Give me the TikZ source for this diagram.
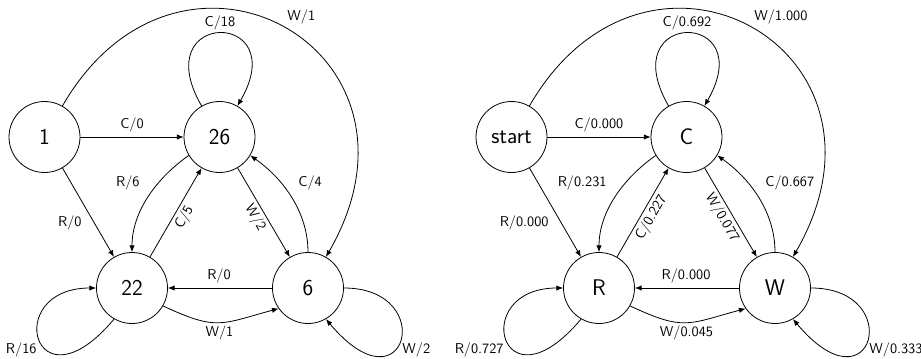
\documentclass[tikz,border=0pt]{standalone}
\usetikzlibrary{arrows.meta}
\begin{document}
\begin{tikzpicture}[x=0.75pt,y=0.75pt,
  state/.style={circle,draw,line width=0.6pt,minimum size=53.25pt,inner sep=0pt,
    font=\sffamily\fontsize{17}{20}\selectfont},
  conn/.style={line width=0.6pt,-{Latex[length=5pt,width=4pt]}},
  lbl/.style={font=\sffamily\fontsize{10.7}{12}\selectfont,inner sep=0pt},
  slbl/.style={lbl,midway,sloped,below=2pt}]
\path[use as bounding box] (0,0) rectangle (921,358);

% ---------- left graph ----------
\node[state] (a1)  at (44.5,221) {1};
\node[state] (a26) at (219.5,221) {26};
\node[state] (a22) at (132,70) {22};
\node[state] (a6)  at (308,70) {6};

\draw[conn] (a1) -- (a26) node[lbl] at (132,233) {C/0};
\draw[conn] (a1) -- (a22) node[lbl,anchor=east] at (82,135) {R/0};
\draw[conn] (a1.60) .. controls +(60:235) and +(60:240) .. (a6.60)
  node[lbl,anchor=west] at (287,341) {W/1};
\draw[conn] (a26.120) .. controls +(120:112) and +(60:112) .. (a26.60)
  node[lbl] at (220,335.5) {C/18};
\draw[conn] (a26.211) .. controls +(215:40) and +(90:40) .. (a22.90)
  node[lbl,anchor=east] at (140,175) {R/6};
\draw[conn] (a6.90) .. controls +(90:40) and +(325:40) .. (a26.329)
  node[lbl,anchor=west] at (298,175) {C/4};
\draw[conn] (a22) -- (a26) node[slbl] {C/5};
\draw[conn] (a26) -- (a6) node[slbl] {W/2};
\draw[conn] (a6) -- (a22) node[lbl] at (219,82) {R/0};
\draw[conn] (a22.-30) .. controls +(-25:60) and +(195:60) .. (a6.215)
  node[lbl] at (219.5,25) {W/1};
\draw[conn] (a22.240) .. controls +(230:125) and +(180:95) .. (a22.180)
  node[lbl,anchor=east] at (37,8) {R/16};
\draw[conn] (a6.0) .. controls +(0:95) and +(310:125) .. (a6.300)
  node[lbl,anchor=west] at (402,8) {W/2};

% ---------- right graph ----------
\begin{scope}[xshift=350.25pt]
\node[state] (bs) at (44.5,221) {start};
\node[state] (bc) at (219.5,221) {C};
\node[state] (br) at (132,70) {R};
\node[state] (bw) at (308,70) {W};

\draw[conn] (bs) -- (bc) node[lbl] at (132,233) {C/0.000};
\draw[conn] (bs) -- (br) node[lbl,anchor=east] at (82,135) {R/0.000};
\draw[conn] (bs.60) .. controls +(60:235) and +(60:240) .. (bw.60)
  node[lbl,anchor=west] at (287,341) {W/1.000};
\draw[conn] (bc.120) .. controls +(120:112) and +(60:112) .. (bc.60)
  node[lbl] at (220,335.5) {C/0.692};
\draw[conn] (bc.211) .. controls +(215:40) and +(90:40) .. (br.90)
  node[lbl,anchor=east] at (140,175) {R/0.231};
\draw[conn] (bw.90) .. controls +(90:40) and +(325:40) .. (bc.329)
  node[lbl,anchor=west] at (298,175) {C/0.667};
\draw[conn] (br) -- (bc) node[slbl] {C/0.227};
\draw[conn] (bc) -- (bw) node[slbl] {W/0.077};
\draw[conn] (bw) -- (br) node[lbl] at (219,82) {R/0.000};
\draw[conn] (br.-30) .. controls +(-25:60) and +(195:60) .. (bw.215)
  node[lbl] at (219.5,25) {W/0.045};
\draw[conn] (br.240) .. controls +(230:125) and +(180:95) .. (br.180)
  node[lbl,anchor=east] at (37,8) {R/0.727};
\draw[conn] (bw.0) .. controls +(0:95) and +(310:125) .. (bw.300)
  node[lbl,anchor=west] at (402,8) {W/0.333};
\end{scope}
\end{tikzpicture}
\end{document}
